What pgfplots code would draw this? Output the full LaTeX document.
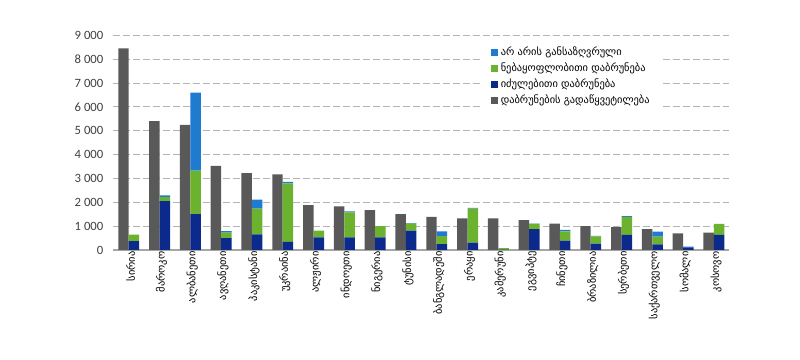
\documentclass[border=0pt]{standalone}
\usepackage{fontspec}
\setmainfont{Carlito}
\newfontfamily\geo{DejaVu Sans}
\usepackage{pgfplots}
\usepackage{pgfplotstable}
\pgfplotsset{compat=1.18}
\definecolor{cgrey}{HTML}{595959}
\definecolor{cnavy}{HTML}{0B2A8C}
\definecolor{cgreen}{HTML}{6BB32E}
\definecolor{cblue}{HTML}{1E7BCF}
\definecolor{cgrid}{HTML}{A6A6A6}
\definecolor{ctext}{HTML}{404040}
\pgfplotstableread{
x grey blue green undet
0 8450 370 270 0
1 5400 2050 170 70
2 5250 1500 1830 3270
3 3530 500 230 60
4 3220 660 1070 380
5 3170 340 2450 70
6 1880 530 280 0
7 1830 530 1050 40
8 1670 530 470 0
9 1500 810 300 20
10 1390 250 330 200
11 1330 310 1420 40
12 1330 20 60 0
13 1250 870 220 20
14 1110 390 390 60
15 1000 270 300 20
16 960 630 760 30
17 870 240 320 210
18 700 110 0 30
19 725 630 460 0
}\data
\begin{document}
\begin{tikzpicture}[x=1pt,y=1pt]
\path[use as bounding box] (0,0) rectangle (600,270);
\begin{axis}[
  at={(85pt,82.5pt)}, anchor=south west, scale only axis,
  width=462pt, height=161pt,
  xmin=-0.5, xmax=19.5, ymin=0, ymax=9000,
  axis x line*=bottom, axis y line*=left,
  y axis line style={draw=none},
  x axis line style={draw=cgrid, line width=0.8pt},
  major tick length=0pt,
  ytick={0,1000,...,9000},
  ymajorgrids, grid style={cgrid!85, dash pattern=on 5pt off 2.5pt, line width=0.6pt},
  xtick={0,...,19},
  xticklabels={სირია,მაროკო,ალბანეთი,ავღანეთი,პაკისტანი,უკრაინა,ალჟირი,ინდოეთი,ნიგერია,ტუნისი,ბანგლადეში,ერაყი,კამერუნი,ეგვიპტე,ჩინეთი,ბრაზილია,სერბეთი,საქართველო,სომალი,კოსოვო},
  xticklabel style={rotate=90, anchor=east, font=\geo\fontsize{7.8}{9}\selectfont, text=black, inner sep=1pt, yshift=-1.5pt},
  yticklabel style={font=\fontsize{9.5}{11}\selectfont, text=ctext, xshift=-4pt},
  /pgf/number format/.cd, 1000 sep={\ }, assume math mode=true,
]
\addplot[ybar, bar width=0.34, bar shift=-0.17, fill=cgrey, draw=none] table[x=x,y=grey]{\data};
\end{axis}
\begin{axis}[
  at={(85pt,82.5pt)}, anchor=south west, scale only axis,
  width=462pt, height=161pt,
  xmin=-0.5, xmax=19.5, ymin=0, ymax=9000,
  axis lines=none, xtick=\empty, ytick=\empty,
  ybar stacked, bar width=0.34, bar shift=0.17,
  reverse legend,
  legend cell align=left,
  legend style={at={(0.600,0.978)}, anchor=north west, draw=none, fill=white,
    font=\geo\fontsize{7.8}{9}\selectfont, row sep=0pt, inner xsep=6pt, inner ysep=3pt},
  legend image code/.code={\fill[#1] (0pt,-2.6pt) rectangle (5.2pt,2.6pt);},
]
\addlegendimage{fill=cgrey, draw=none}
\addlegendentry{დაბრუნების გადაწყვეტილება}
\addplot[fill=cnavy, draw=none] table[x=x,y=blue]{\data};
\addlegendentry{იძულებითი დაბრუნება}
\addplot[fill=cgreen, draw=none] table[x=x,y=green]{\data};
\addlegendentry{ნებაყოფლობითი დაბრუნება}
\addplot[fill=cblue, draw=none] table[x=x,y=undet]{\data};
\addlegendentry{არ არის განსაზღვრული}
\end{axis}
\end{tikzpicture}
\end{document}
